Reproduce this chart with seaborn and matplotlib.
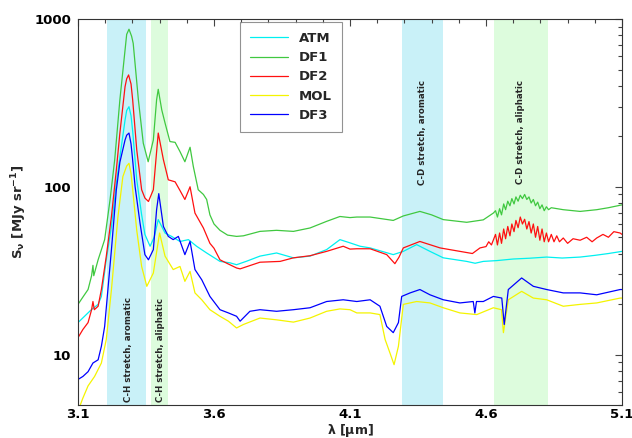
import numpy as np
import pandas as pd
import matplotlib
matplotlib.use("Agg")
import matplotlib.pyplot as plt
import matplotlib.ticker as mticker
import seaborn as sns

# wavelength [um] / flux [MJy/sr]
atm_wl = [3.100, 3.124, 3.149, 3.174, 3.186, 3.204, 3.223, 3.241, 3.254, 3.273, 3.279, 3.2875, 3.295,
          3.301, 3.316,
          3.334, 3.346, 3.365, 3.380, 3.395, 3.420, 3.444, 3.475, 3.506, 3.536, 3.573, 3.622, 3.659,
          3.683, 3.720, 3.769, 3.830, 3.892, 3.953, 4.014, 4.063, 4.100, 4.137, 4.174, 4.259, 4.296,
          4.345, 4.394, 4.443, 4.529, 4.560, 4.590, 4.640, 4.700, 4.760, 4.823, 4.880, 4.946, 5.000,
          5.050, 5.100]
atm_flux = [15.5, 16.9, 18.5, 19.9, 22.2, 36.7, 58.0, 105, 150, 250, 285, 300, 265,
            215, 110,
            68.0, 52.0, 44.2, 50.0, 63.7, 53.0, 50.6, 47.2, 48.4, 44.2, 40.3, 35.9, 35.2,
            34.3, 36.0, 38.6, 40.3, 37.7, 38.6, 42.2, 48.4, 46.3, 44.2, 43.2, 39.4, 41.2,
            45.2, 41.2, 37.7, 35.9, 35.0, 35.9, 36.3, 37.1, 37.5, 38.1, 37.6, 38.1, 39.0,
            40.0, 41.2]

df1_wl = [3.100, 3.118, 3.137, 3.150, 3.155, 3.158, 3.174, 3.198, 3.218, 3.235, 3.254, 3.273, 3.279,
          3.2875, 3.297,
          3.303, 3.322, 3.340, 3.358, 3.377, 3.389, 3.395, 3.408, 3.420, 3.438, 3.457, 3.475, 3.493,
          3.512, 3.524, 3.542, 3.561, 3.573, 3.585, 3.600, 3.622, 3.650, 3.683, 3.708, 3.769, 3.830,
          3.892, 3.953, 4.014, 4.063, 4.100, 4.125, 4.174, 4.259, 4.296, 4.357, 4.400, 4.443, 4.529,
          4.590, 4.627, 4.635, 4.642, 4.650, 4.657, 4.665, 4.672, 4.680, 4.688, 4.695, 4.703, 4.710,
          4.718, 4.726, 4.734, 4.742, 4.750, 4.758, 4.766, 4.774, 4.782, 4.790, 4.798, 4.806, 4.814,
          4.822, 4.830, 4.840, 4.884, 4.946, 5.007, 5.050, 5.100]
df1_flux = [19.9, 22.0, 24.4, 29.5, 34.0, 29.5, 36.7, 48.4, 84.0, 145, 330, 653, 810,
            869, 790,
            716, 330, 182, 141, 190, 330, 381, 287, 240, 186, 184, 162, 141,
            172, 132, 96.0, 90.0, 84.0, 68.0, 60.0, 55.0, 51.5, 50.6, 51.0, 54.2, 55.0,
            54.2, 56.8, 62.2, 66.5, 65.5, 66.0, 66.0, 63.0, 67.0, 71.3, 68.0, 63.7, 61.4,
            63.5, 69.7, 72.0, 66.0, 74.0, 68.0, 79.0, 73.0, 82.0, 77.0, 85.0, 79.0, 87.0,
            82.0, 89.0, 85.0, 90.0, 84.0, 87.0, 80.0, 84.0, 77.0, 81.0, 74.0, 78.0, 72.0,
            76.0, 73.0, 75.0, 73.0, 71.3, 73.0, 75.0, 78.0]

df2_wl = [3.100, 3.118, 3.137, 3.150, 3.155, 3.160, 3.174, 3.186, 3.204, 3.223, 3.241, 3.254, 3.273,
          3.279, 3.286, 3.295,
          3.301, 3.316, 3.334, 3.346, 3.359, 3.377, 3.395, 3.414, 3.432, 3.457, 3.475, 3.493,
          3.512, 3.530, 3.561, 3.585, 3.600, 3.622, 3.647, 3.683, 3.696, 3.769, 3.843, 3.892, 3.953,
          4.014, 4.075, 4.100, 4.125, 4.174, 4.235, 4.265, 4.280, 4.296, 4.357, 4.431, 4.504, 4.550,
          4.578, 4.600, 4.610, 4.620, 4.635, 4.642, 4.650, 4.657, 4.665, 4.672, 4.680, 4.688, 4.695,
          4.703, 4.710, 4.718, 4.726, 4.734, 4.742, 4.750, 4.758, 4.766, 4.774, 4.782, 4.790, 4.798,
          4.806, 4.814, 4.822, 4.830, 4.840, 4.850, 4.860, 4.870, 4.884, 4.900, 4.920, 4.946, 4.970,
          4.990, 5.007, 5.030, 5.050, 5.070, 5.093, 5.100]
df2_flux = [12.6, 14.1, 15.5, 18.5, 20.7, 18.5, 19.4, 24.4, 38.5, 66.5, 126, 209, 395,
            440, 464, 410,
            330, 166, 96.0, 85.7, 81.7, 96.0, 209, 145, 110, 107, 95.0, 84.0,
            100, 69.7, 56.8, 46.0, 43.0, 36.7, 35.0, 32.8, 32.4, 35.5, 35.9, 37.7, 38.8,
            41.2, 44.2, 42.5, 42.7, 42.7, 39.4, 34.8, 38.0, 43.2, 47.2, 43.2, 41.2, 40.0,
            43.2, 44.0, 47.0, 45.0, 52.0, 45.0, 53.0, 46.0, 56.0, 49.0, 58.0, 51.0, 60.0,
            54.0, 63.0, 57.0, 66.0, 60.0, 64.0, 56.0, 62.0, 53.0, 60.0, 50.0, 58.0, 48.0,
            56.0, 47.0, 53.0, 47.0, 52.0, 47.0, 51.0, 47.0, 49.5, 46.0, 49.0, 48.0, 50.0,
            47.0, 49.5, 52.0, 50.0, 54.0, 53.0, 52.0]

mol_wl = [3.100, 3.118, 3.137, 3.161, 3.186, 3.204, 3.223, 3.247, 3.265, 3.279, 3.2875, 3.295, 3.300,
          3.316, 3.334,
          3.353, 3.377, 3.400, 3.420, 3.450, 3.475, 3.493, 3.512, 3.530, 3.555, 3.585, 3.622, 3.653,
          3.683, 3.708, 3.769, 3.830, 3.892, 3.953, 4.014, 4.063, 4.100, 4.125, 4.174, 4.210, 4.229,
          4.247, 4.262, 4.278, 4.296, 4.345, 4.394, 4.443, 4.504, 4.566, 4.627, 4.657, 4.664, 4.682,
          4.731, 4.774, 4.823, 4.884, 4.946, 5.007, 5.093, 5.100]
mol_flux = [4.6, 5.5, 6.5, 7.4, 8.9, 12.3, 24.4, 66.5, 115, 133, 138, 120, 100,
            55.0, 33.5,
            25.5, 30.6, 53.0, 38.6, 32.1, 33.5, 27.3, 31.3, 23.3, 21.2, 18.5, 16.9, 15.8,
            14.4, 15.1, 16.5, 16.1, 15.6, 16.5, 18.1, 18.7, 18.5, 17.7, 17.7, 17.3, 12.3,
            10.2, 8.7, 11.2, 19.9, 20.7, 20.3, 19.0, 17.7, 17.3, 19.0, 18.5, 13.5, 21.2,
            23.8, 21.7, 21.2, 19.4, 19.9, 20.3, 21.7, 21.7]

df3_wl = [3.100, 3.118, 3.137, 3.155, 3.174, 3.186, 3.198, 3.210, 3.223, 3.241, 3.254, 3.273, 3.279,
          3.2875, 3.295, 3.300, 3.310, 3.328, 3.346, 3.359, 3.377, 3.389, 3.397, 3.414, 3.432, 3.450,
          3.469, 3.493,
          3.512, 3.530, 3.555, 3.585, 3.622, 3.653, 3.683, 3.696, 3.732, 3.769, 3.830, 3.892, 3.953,
          4.014, 4.075, 4.125, 4.174, 4.210, 4.235, 4.259, 4.278, 4.290, 4.321, 4.357, 4.394, 4.443,
          4.504, 4.553, 4.559, 4.565, 4.590, 4.627, 4.658, 4.667, 4.682, 4.731, 4.774, 4.823, 4.884,
          4.946, 5.007, 5.093, 5.100]
df3_flux = [7.1, 7.4, 7.9, 8.9, 9.3, 11.2, 14.7, 24.4, 42.2, 96.0, 140, 190, 203,
            209, 180, 150, 100, 60.8, 39.4, 36.7, 42.2, 73.0, 91.0, 58.0, 50.6, 48.4,
            50.6, 39.4,
            47.2, 32.1, 27.9, 22.2, 18.5, 17.7, 16.9, 15.8, 18.1, 18.5, 18.1, 18.5, 19.0,
            20.7, 21.2, 20.7, 21.2, 19.4, 14.7, 13.5, 15.5, 22.2, 23.3, 24.4, 22.7, 21.2,
            20.3, 20.7, 17.7, 20.7, 20.7, 22.2, 21.7, 15.1, 24.4, 28.6, 25.5, 24.4, 23.3,
            23.3, 22.7, 24.4, 24.4]

names = ["ATM", "DF1", "DF2", "MOL", "DF3"]
colors = ["#00f0f0", "#40c840", "#ff1010", "#f4f400", "#0000ff"]

# shaded bands (um) and their labels
bands = [(3.208, 3.350, "#c9f1f8", "C-H stretch, aromatic", 3.2875, 10.7),
         (3.367, 3.430, "#ddfcdd", "C-H stretch, aliphatic", 3.402, 10.7),
         (4.292, 4.441, "#c9f1f8", "C-D stretch, aromatic", 4.368, 212),
         (4.629, 4.827, "#ddfcdd", "C-D stretch, aliphatic", 4.726, 212)]

frames = []
for n, w, f in zip(names,
                   [atm_wl, df1_wl, df2_wl, mol_wl, df3_wl],
                   [atm_flux, df1_flux, df2_flux, mol_flux, df3_flux]):
    frames.append(pd.DataFrame({"wl": w, "flux": f, "name": n}))
df = pd.concat(frames, ignore_index=True)

sns.set_style("white")
plt.rcParams["font.family"] = ["DejaVu Sans"]
plt.rcParams["font.weight"] = "bold"
plt.rcParams["mathtext.default"] = "bf"

fig = plt.figure(figsize=(6.32, 4.38), dpi=100)
ax = fig.add_axes([0.1234, 0.0753, 0.8608, 0.8813])

for lo, hi, c, lab, xt, yt in bands:
    ax.axvspan(lo, hi, color=c, lw=0, zorder=0)
    ax.text(xt, yt, lab, rotation=90, ha="center", va="center", fontsize=6.2,
            fontweight="bold", zorder=3)

sns.lineplot(data=df, x="wl", y="flux", hue="name", hue_order=names,
             palette=dict(zip(names, colors)), estimator=None, sort=False,
             lw=0.9, ax=ax, zorder=2)

ax.set_yscale("log")
ax.set_xlim(3.1, 5.1)
ax.set_ylim(5, 1000)
ax.set_xticks([3.1, 3.6, 4.1, 4.6, 5.1])
ax.xaxis.set_major_formatter(mticker.FormatStrFormatter("%.1f"))
ax.xaxis.set_minor_locator(mticker.MultipleLocator(0.1))
ax.yaxis.set_major_locator(mticker.FixedLocator([10, 100, 1000]))
ax.yaxis.set_major_formatter(mticker.FuncFormatter(lambda v, _: f"{v:g}"))
ax.yaxis.set_minor_locator(mticker.LogLocator(base=10, subs=np.arange(2, 10)))
ax.yaxis.set_minor_formatter(mticker.NullFormatter())
ax.tick_params(which="both", direction="in", top=True, right=True, colors="#444444",
               labelcolor="black", labelsize=9.5, width=0.8)
ax.tick_params(which="major", length=5)
ax.tick_params(which="minor", length=3)
ax.tick_params(axis="x", pad=2.5)
ax.tick_params(axis="y", pad=5)
for lbl in ax.get_xticklabels() + ax.get_yticklabels():
    lbl.set_fontweight("bold")
for s in ax.spines.values():
    s.set_color("#333333")
    s.set_linewidth(0.8)

ax.set_xlabel(r"$\lambda$ [$\mu$m]", fontsize=9, fontweight="bold", labelpad=0.5)
ax.set_ylabel(r"S$_\nu$ [MJy sr$^{-1}$]", fontsize=9.5, fontweight="bold", labelpad=4)

leg = ax.legend(loc="upper left", bbox_to_anchor=(0.298, 0.992), fontsize=9.5,
                frameon=True, fancybox=False, handlelength=2.9, borderpad=0.75,
                labelspacing=0.47, handletextpad=0.8, borderaxespad=0)
leg.get_frame().set_edgecolor("#777777")
leg.get_frame().set_linewidth(0.8)
for t in leg.get_texts():
    t.set_fontweight("bold")

fig.savefig("out.png", dpi=100)
